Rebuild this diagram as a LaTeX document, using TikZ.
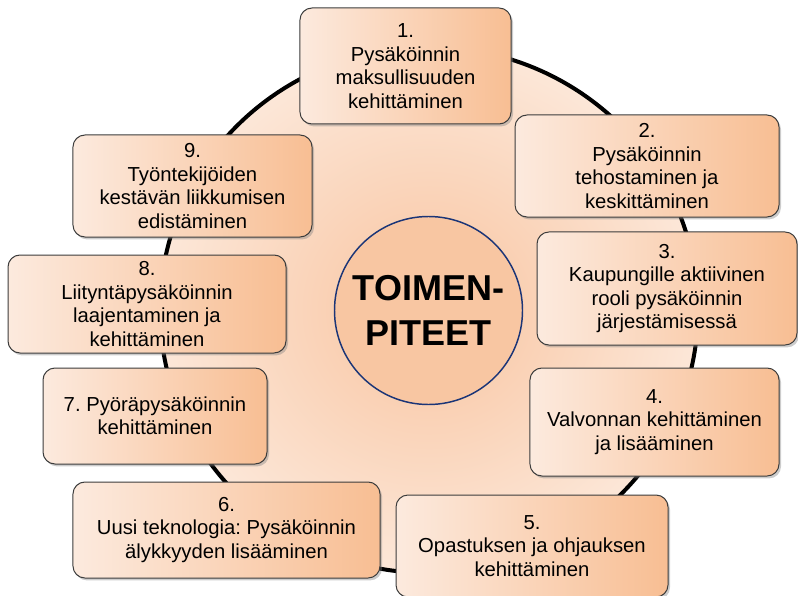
\documentclass[tikz,border=0pt]{standalone}
\usepackage{fontspec}
\setmainfont{Liberation Sans}
\usetikzlibrary{shapes.geometric,shadows}
\definecolor{boxlight}{HTML}{FCEADE}
\definecolor{boxdark}{HTML}{F8BE93}
\definecolor{boxline}{HTML}{3C3C3C}
\definecolor{ringin}{HTML}{F8C4A0}
\definecolor{ringout}{HTML}{FCE7D8}
\definecolor{coreline}{HTML}{1B3577}
\definecolor{corefill}{HTML}{F8C6A2}
\frenchspacing

\begin{document}
\begin{tikzpicture}[x=0.75pt, y=-0.75pt,
  toimi/.style={rectangle, rounded corners=9pt, draw=boxline, line width=0.75pt,
    left color=boxlight, right color=boxdark, align=center, inner sep=2pt,
    font=\fontsize{15.2}{17.6}\selectfont,
    drop shadow={shadow xshift=1.5pt, shadow yshift=-1.8pt, opacity=0.4}},
  kehys/.style={ellipse, draw=black, line width=3pt, inner color=ringin,
    outer color=ringout, minimum width=403.5pt, minimum height=394.5pt, inner sep=0pt},
  keskus/.style={circle, draw=coreline, line width=1.1pt, fill=corefill,
    minimum size=141pt, inner sep=0pt, align=center,
    font=\fontsize{27}{33.75}\selectfont\bfseries}]
\useasboundingbox (0,0) rectangle (798,595);
\node[kehys] (kehys) at (429,310) {};
\node[keskus] (keskus) at (428.5,310.5) {TOIMEN-\\PITEET};
\node[toimi, minimum width=158.3pt, minimum height=87pt] (t_1) at (405.5,66)
  {1.\\Pysäköinnin\\maksullisuuden\\kehittäminen};
\node[toimi, minimum width=198pt, minimum height=76.5pt] (t_2) at (647,166)
  {2.\\Pysäköinnin\\tehostaminen ja\\keskittäminen};
\node[toimi, minimum width=195pt, minimum height=84.8pt] (t_3) at (667,288.5)
  {3.\\Kaupungille aktiivinen\\rooli pysäköinnin\\järjestämisessä};
\node[toimi, minimum width=186.8pt, minimum height=81pt] (t_4) at (654.5,422)
  {4.\\Valvonnan kehittäminen\\ja lisääminen};
\node[toimi, minimum width=204pt, minimum height=76.5pt] (t_5) at (532,546)
  {5.\\Opastuksen ja ohjauksen\\kehittäminen};
\node[toimi, minimum width=230.3pt, minimum height=72pt] (t_6) at (226.5,530)
  {6.\\Uusi teknologia: Pysäköinnin\\älykkyyden lisääminen};
\node[toimi, minimum width=168pt, minimum height=72pt] (t_7) at (155,416)
  {7. Pyöräpysäköinnin\\kehittäminen};
\node[toimi, minimum width=208.5pt, minimum height=73.5pt] (t_8) at (147,304)
  {8.\\Liityntäpysäköinnin\\laajentaminen ja\\kehittäminen};
\node[toimi, minimum width=179.3pt, minimum height=76.5pt] (t_9) at (192.5,186)
  {9.\\Työntekijöiden\\kestävän liikkumisen\\edistäminen};
\end{tikzpicture}
\end{document}
